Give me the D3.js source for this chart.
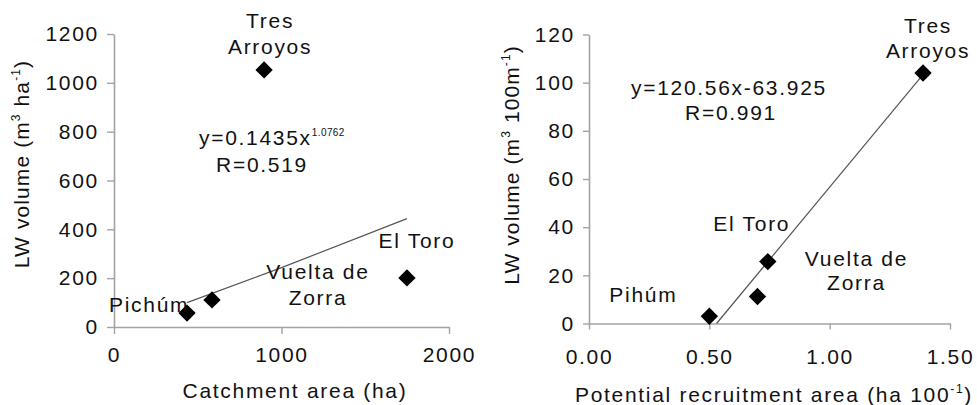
<!DOCTYPE html>
<html>
<head>
<meta charset="utf-8">
<title>LW volume vs catchment and recruitment area</title>
<script src="https://d3js.org/d3.v7.min.js"></script>
<style>
	body { margin: 0; background: #fff; }
	svg text { font-family: "Liberation Sans", Arial, sans-serif; fill: #111; letter-spacing: 1.7px; }
</style>
</head>
<body>
<div id="chart"></div>
<script>
	// ---- data ----
	// left panel: catchment area vs LW volume per ha
	const sitesLeft = ["Pichúm", "Vuelta de Zorra", "Tres Arroyos", "El Toro"];
	const catchment = [436, 585, 896, 1749];
	const volumeHa = [57, 111, 1053, 201];
	const trendLeftX = [436, 1000, 1749];
	const trendLeftY = [100, 243, 444];
	const xTicksLeft = [0, 1000, 2000];
	const yTicksLeft = [0, 200, 400, 600, 800, 1000, 1200];

	// right panel: potential recruitment area vs LW volume per 100 m
	const sitesRight = ["Pihúm", "Vuelta de Zorra", "El Toro", "Tres Arroyos"];
	const recruit = [0.50, 0.70, 0.743, 1.388];
	const volume100 = [3, 11.2, 25.7, 104];
	const trendRightX = [0.53, 1.38];
	const trendRightY = [0, 102.4];
	const xTicksRight = [0, 0.5, 1.0, 1.5];
	const yTicksRight = [0, 20, 40, 60, 80, 100, 120];

	const W = 977, H = 405;
	const svg = d3.select("#chart").append("svg")
		.attr("width", W).attr("height", H);

	const axisColor = "#a3a3a3";

	// text with optional superscript parts: parts = [[text, isSup], ...]
	function richText(g, parts, size, supSize) {
		const t = g.append("text").style("font-size", size + "px");
		let up = false;
		parts.forEach(p => {
			const ts = t.append("tspan").text(p[0]);
			if (p[1] && !up) { ts.attr("dy", -size * 0.42).style("font-size", supSize + "px"); up = true; }
			else if (p[1]) { ts.style("font-size", supSize + "px"); }
			else if (up) { ts.attr("dy", size * 0.42); up = false; }
		});
		return t;
	}

	function panel(cfg) {
		const g = svg.append("g");
		const x = d3.scaleLinear().domain(cfg.xDomain).range(cfg.xRange);
		const y = d3.scaleLinear().domain(cfg.yDomain).range(cfg.yRange);

		const ax = g.append("g")
			.attr("transform", `translate(0,${cfg.yRange[0]})`)
			.call(d3.axisBottom(x).tickValues(cfg.xTicks).tickFormat(cfg.xFormat)
				.tickSizeInner(cfg.tick).tickSizeOuter(0).tickPadding(cfg.xPad));
		const ay = g.append("g")
			.attr("transform", `translate(${cfg.xRange[0]},0)`)
			.call(d3.axisLeft(y).tickValues(cfg.yTicks).tickFormat(d3.format("d"))
				.tickSizeInner(cfg.tick).tickSizeOuter(0).tickPadding(8));
		[ax, ay].forEach(a => {
			a.select(".domain").attr("stroke", axisColor).attr("stroke-width", 1.6);
			a.selectAll(".tick line").attr("stroke", axisColor).attr("stroke-width", 1.4);
			a.selectAll(".tick text").style("font-size", "21px").attr("fill", "#111");
		});

		// trend line
		const line = d3.line().x(d => x(d[0])).y(d => y(d[1]));
		g.append("path")
			.datum(cfg.trendX.map((v, i) => [v, cfg.trendY[i]]))
			.attr("d", line)
			.attr("fill", "none")
			.attr("stroke", "#555")
			.attr("stroke-width", 1.2);

		// diamonds
		const pts = cfg.xs.map((v, i) => ({ name: cfg.names[i], x: v, y: cfg.ys[i] }));
		g.selectAll(".pt").data(pts).enter().append("path")
			.attr("class", "pt")
			.attr("d", d3.symbol(d3.symbolSquare, 150)())
			.attr("transform", d => `translate(${x(d.x)},${y(d.y)}) rotate(45)`)
			.attr("fill", "#000");

		// point labels, placed relative to each point
		pts.forEach(d => {
			const lab = cfg.labels[d.name];
			lab.lines.forEach((txt, j) => {
				g.append("text")
					.attr("x", x(d.x) + lab.dx)
					.attr("y", y(d.y) + lab.dy[j])
					.attr("text-anchor", lab.anchor)
					.style("font-size", "21px")
					.text(txt);
			});
		});

		// equation
		const e1 = richText(g, cfg.eq, 21, 10)
			.attr("x", cfg.eqPos[0]).attr("y", cfg.eqPos[1]);
		e1.selectAll("tspan").filter((d, i) => i === 1).style("letter-spacing", "0.4px");
		g.append("text")
			.attr("x", cfg.rPos[0]).attr("y", cfg.rPos[1])
			.attr("text-anchor", "middle")
			.style("font-size", "21px")
			.text(cfg.r);

		// axis titles
		richText(g, cfg.xTitle, 21, 12)
			.attr("x", cfg.xTitlePos[0]).attr("y", cfg.xTitlePos[1])
			.attr("text-anchor", "middle");
		richText(g, cfg.yTitle, 21, 12)
			.attr("text-anchor", "middle")
			.attr("transform", `translate(${cfg.yTitlePos[0]},${cfg.yTitlePos[1]}) rotate(-90)`)
			.style("letter-spacing", "1.1px");
	}

	panel({
		xDomain: [0, 2000], xRange: [114, 449],
		yDomain: [0, 1200], yRange: [327, 34],
		xTicks: xTicksLeft, yTicks: yTicksLeft, xFormat: d3.format("d"),
		tick: 7, xPad: 13,
		xs: catchment, ys: volumeHa, names: sitesLeft,
		trendX: trendLeftX, trendY: trendLeftY,
		labels: {
			"Pichúm": { lines: ["Pichúm"], dx: -78, dy: [-1], anchor: "start" },
			"Vuelta de Zorra": { lines: ["Vuelta de", "Zorra"], dx: 106, dy: [-21, 5], anchor: "middle" },
			"Tres Arroyos": { lines: ["Tres", "Arroyos"], dx: 6, dy: [-42, -16], anchor: "middle" },
			"El Toro": { lines: ["El Toro"], dx: 10, dy: [-30], anchor: "middle" }
		},
		eq: [["y=0.1435x", false], ["1.0762", true]], eqPos: [199, 145],
		r: "R=0.519", rPos: [262, 172],
		xTitle: [["Catchment area (ha)", false]], xTitlePos: [295, 398],
		yTitle: [["LW volume (m", false], ["3", true], [" ha", false], ["-1", true], [")", false]],
		yTitlePos: [29, 164]
	});

	panel({
		xDomain: [0, 1.5], xRange: [589, 950],
		yDomain: [0, 120], yRange: [323.5, 34.5],
		xTicks: xTicksRight, yTicks: yTicksRight, xFormat: d3.format(".2f"),
		tick: 6, xPad: 20,
		xs: recruit, ys: volume100, names: sitesRight,
		trendX: trendRightX, trendY: trendRightY,
		labels: {
			"Pihúm": { lines: ["Pihúm"], dx: -66, dy: [-14], anchor: "middle" },
			"Vuelta de Zorra": { lines: ["Vuelta de", "Zorra"], dx: 99, dy: [-31, -7], anchor: "middle" },
			"El Toro": { lines: ["El Toro"], dx: -16, dy: [-31], anchor: "middle" },
			"Tres Arroyos": { lines: ["Tres", "Arroyos"], dx: 5, dy: [-40, -15], anchor: "middle" }
		},
		eq: [["y=120.56x-63.925", false]], eqPos: [631, 95],
		r: "R=0.991", rPos: [731, 120],
		xTitle: [["Potential recruitment area (ha 100", false], ["-1", true], [")", false]], xTitlePos: [774, 402],
		yTitle: [["LW volume (m", false], ["3", true], [" 100m", false], ["-1", true], [")", false]],
		yTitlePos: [519, 165]
	});
</script>
</body>
</html>
